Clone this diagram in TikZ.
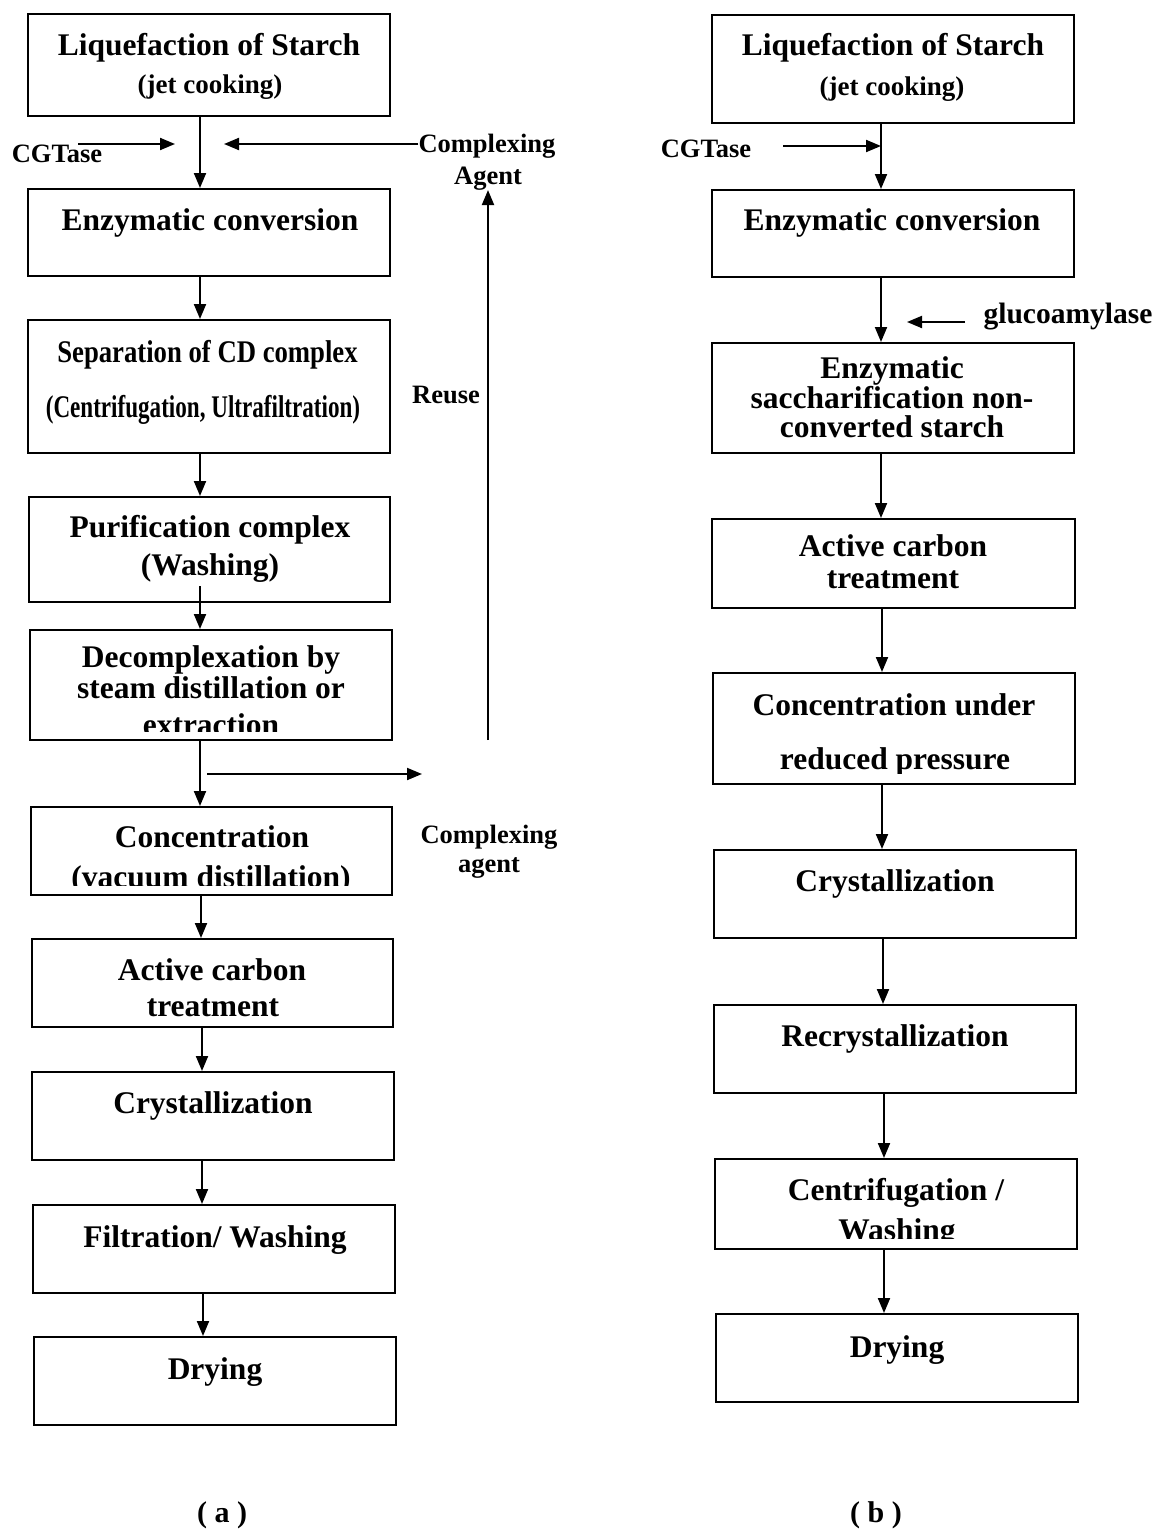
\documentclass[tikz,border=0pt]{standalone}
\usepackage{fontspec}
\setmainfont{Liberation Serif}
\usetikzlibrary{arrows.meta}
\newcommand\fmain{\fontsize{31.5}{31.5}\selectfont\bfseries}
\newcommand\fsmall{\fontsize{27}{27}\selectfont\bfseries}
\newcommand\fcap{\fontsize{30}{30}\selectfont\bfseries}
\newcommand\flab{\fontsize{26.5}{26.5}\selectfont\bfseries}
\newcommand\fglu{\fontsize{29.5}{29.5}\selectfont\bfseries}
\newcommand\fcond{\fontsize{30}{30}\selectfont\bfseries}
\begin{document}
\begin{tikzpicture}[x=1pt,y=-1pt,
  box/.style={draw, line width=2pt, inner sep=0pt},
  txt/.style={anchor=base, inner sep=0pt, font=\fmain},
  lab/.style={anchor=base, inner sep=0pt, font=\flab},
  arr/.style={line width=2pt, -{Triangle[length=15pt,width=12pt]}},
]
\useasboundingbox (0,0) rectangle (1156,1529);
\fill[white] (0,0) rectangle (1156,1529);

% ---------------- column (a) ----------------
\node[box, minimum width=362pt, minimum height=102pt] (A1) at (209,65) {};
\node[box, minimum width=362pt, minimum height=87pt]  (A2) at (209,232.5) {};
\node[box, minimum width=362pt, minimum height=133pt] (A3) at (209,386.5) {};
\node[box, minimum width=361pt, minimum height=105pt] (A4) at (209.5,549.5) {};
\node[box, minimum width=362pt, minimum height=110pt] (A5) at (211,685) {};
\node[box, minimum width=361pt, minimum height=88pt]  (A6) at (211.5,851) {};
\node[box, minimum width=361pt, minimum height=88pt]  (A7) at (212.5,983) {};
\node[box, minimum width=362pt, minimum height=88pt]  (A8) at (213,1116) {};
\node[box, minimum width=362pt, minimum height=88pt]  (A9) at (214,1249) {};
\node[box, minimum width=362pt, minimum height=88pt]  (A10) at (215,1381) {};

\node[txt] (A1t1) at (209,55) {Liquefaction of Starch};
\node[txt, font=\fsmall] (A1t2) at (210,93) {(jet cooking)};
\node[txt] (A2t1) at (210,230) {Enzymatic conversion};
\node[txt, font=\fcond] (A3t1) at (207.5,362) {\scalebox{0.89}[1.05]{Separation of CD complex}};
\node[txt, font=\fcond] (A3t2) at (203,417) {\scalebox{0.77}[1.05]{(Centrifugation, Ultrafiltration)}};
\node[txt] (A4t1) at (210,537) {Purification complex};
\node[txt] (A4t2) at (210,575) {(Washing)};
\node[txt] (A5t1) at (211,667) {Decomplexation by};
\node[txt] (A5t2) at (211,698) {steam distillation or};
\begin{scope}
  \clip (31,631) rectangle (391,731);
  \node[txt] (A5t3) at (211,735) {extraction};
\end{scope}
\node[txt] (A6t1) at (212,847) {Concentration};
\begin{scope}
  \clip (32,808) rectangle (391,885);
  \node[txt] (A6t2) at (211,887) {(vacuum distillation)};
\end{scope}
\node[txt] (A7t1) at (212,980) {Active carbon};
\node[txt] (A7t2) at (213,1016) {treatment};
\node[txt] (A8t1) at (213,1113) {Crystallization};
\node[txt] (A9t1) at (215,1247) {Filtration/ Washing};
\node[txt] (A10t1) at (215,1379) {Drying};

\node[lab] (cgtA) at (57,162) {CGTase};
\node[lab] (cplxA) at (487,152) {Complexing};
\node[lab] (agentA) at (488,184) {Agent};
\node[lab] (reuse) at (446,403) {Reuse};
\node[lab] (cplxB) at (489,843) {Complexing};
\node[lab] (agentB) at (489,872) {agent};
\node[txt, font=\fcap] (capA) at (222,1522) {( a )};

\coordinate (cgA1) at (78,144);
\coordinate (cgA2) at (175,144);
\coordinate (caEnd) at (224,144);
\coordinate (sa1) at (207,774);
\coordinate (sa2) at (422,774);
\coordinate (ru) at (488,740);

\draw[arr] ([xshift=-9pt]A1.south) -- ([xshift=-9pt]A2.north);
\draw[arr] (cgA1) -- (cgA2);
\draw[arr] (cplxA.west |- caEnd) -- (caEnd);
\draw[arr] ([xshift=-9pt]A2.south) -- ([xshift=-9pt]A3.north);
\draw[arr] ([xshift=-9pt]A3.south) -- ([xshift=-9.5pt]A4.north);
\draw[arr] ([xshift=-9.5pt,yshift=17pt]A4.south) -- ([xshift=-11pt]A5.north);
\draw[arr] ([xshift=-11pt]A5.south) -- ([xshift=-11.5pt]A6.north);
\draw[arr] (sa1) -- (sa2);
\draw[arr] (ru) -- (agentA.south);
\draw[arr] ([xshift=-10.5pt]A6.south) -- ([xshift=-11.5pt]A7.north);
\draw[arr] ([xshift=-10.5pt]A7.south) -- ([xshift=-11pt]A8.north);
\draw[arr] ([xshift=-11pt]A8.south) -- ([xshift=-12pt]A9.north);
\draw[arr] ([xshift=-11pt]A9.south) -- ([xshift=-12pt]A10.north);

% ---------------- column (b) ----------------
\node[box, minimum width=362pt, minimum height=108pt] (B1) at (893,69) {};
\node[box, minimum width=362pt, minimum height=87pt]  (B2) at (893,233.5) {};
\node[box, minimum width=362pt, minimum height=110pt] (B3) at (893,398) {};
\node[box, minimum width=363pt, minimum height=89pt]  (B4) at (893.5,563.5) {};
\node[box, minimum width=362pt, minimum height=111pt] (B5) at (894,728.5) {};
\node[box, minimum width=362pt, minimum height=88pt]  (B6) at (895,894) {};
\node[box, minimum width=362pt, minimum height=88pt]  (B7) at (895,1049) {};
\node[box, minimum width=362pt, minimum height=90pt]  (B8) at (896,1204) {};
\node[box, minimum width=362pt, minimum height=88pt]  (B9) at (897,1358) {};

\node[txt] (B1t1) at (893,55) {Liquefaction of Starch};
\node[txt, font=\fsmall] (B1t2) at (892,95) {(jet cooking)};
\node[txt] (B2t1) at (892,230) {Enzymatic conversion};
\node[txt] (B3t1) at (892,378) {Enzymatic};
\node[txt] (B3t2) at (892,408) {saccharification non-};
\node[txt] (B3t3) at (892,437) {converted starch};
\node[txt] (B4t1) at (893,556) {Active carbon};
\node[txt] (B4t2) at (893,588) {treatment};
\node[txt] (B5t1) at (894,715) {Concentration under};
\begin{scope}
  \clip (714,674) rectangle (1074,773);
  \node[txt] (B5t2) at (895,769) {reduced pressure};
\end{scope}
\node[txt] (B6t1) at (895,891) {Crystallization};
\node[txt] (B7t1) at (895,1046) {Recrystallization};
\node[txt] (B8t1) at (896,1200) {Centrifugation /};
\begin{scope}
  \clip (716,1160) rectangle (1076,1238);
  \node[txt] (B8t2) at (897,1240) {Washing};
\end{scope}
\node[txt] (B9t1) at (897,1357) {Drying};

\node[lab] (cgtB) at (706,157) {CGTase};
\node[lab, font=\fglu] (glu) at (1068,323) {glucoamylase};
\node[txt, font=\fcap] (capB) at (876,1522) {( b )};

\coordinate (cgB1) at (783,146);
\coordinate (cgB2) at (881,146);
\coordinate (gl1) at (965,322);
\coordinate (gl2) at (907,322);

\draw[arr] ([xshift=-12pt]B1.south) -- ([xshift=-12pt]B2.north);
\draw[arr] (cgB1) -- (cgB2);
\draw[arr] ([xshift=-12pt]B2.south) -- ([xshift=-12pt]B3.north);
\draw[arr] (gl1) -- (gl2);
\draw[arr] ([xshift=-12pt]B3.south) -- ([xshift=-12.5pt]B4.north);
\draw[arr] ([xshift=-11.5pt]B4.south) -- ([xshift=-12pt]B5.north);
\draw[arr] ([xshift=-12pt]B5.south) -- ([xshift=-13pt]B6.north);
\draw[arr] ([xshift=-12pt]B6.south) -- ([xshift=-12pt]B7.north);
\draw[arr] ([xshift=-11pt]B7.south) -- ([xshift=-12pt]B8.north);
\draw[arr] ([xshift=-12pt]B8.south) -- ([xshift=-13pt]B9.north);
\end{tikzpicture}
\end{document}
